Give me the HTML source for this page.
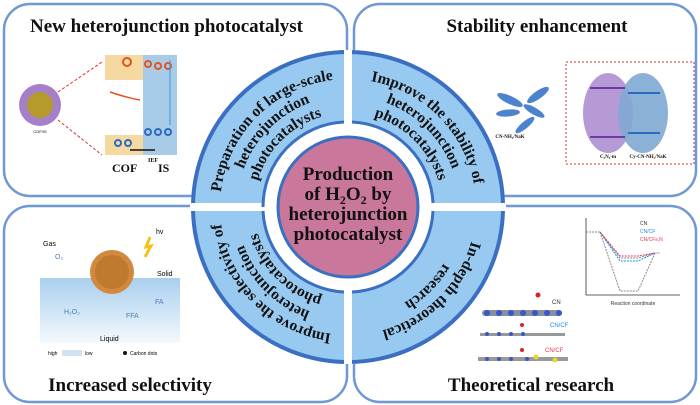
<!DOCTYPE html>
<html><head><meta charset="utf-8"><style>
html,body{margin:0;padding:0;background:#fff;}
svg{display:block;}
.t{font-family:"Liberation Serif",serif;font-weight:bold;fill:#111;}
.s{font-family:"Liberation Sans",sans-serif;}
</style></head><body>
<svg width="700" height="405" viewBox="0 0 700 405" xmlns="http://www.w3.org/2000/svg">
<defs>
<path id="tl1" d="M220,207 A128,128 0 0 1 348,79"/>
<path id="tl2" d="M237,207 A111,111 0 0 1 348,96"/>
<path id="tl3" d="M254,207 A94,94 0 0 1 348,113"/>
<path id="tr1" d="M348,79 A128,128 0 0 1 476,207"/>
<path id="tr2" d="M348,96 A111,111 0 0 1 459,207"/>
<path id="tr3" d="M348,113 A94,94 0 0 1 442,207"/>
<path id="br1" d="M476,207 A128,128 0 0 1 348,335"/>
<path id="br2" d="M459,207 A111,111 0 0 1 348,318"/>
<path id="bl1" d="M348,335 A128,128 0 0 1 220,207"/>
<path id="bl2" d="M348,318 A111,111 0 0 1 237,207"/>
<path id="bl3" d="M348,301 A94,94 0 0 1 254,207"/>
<linearGradient id="liq" x1="0" y1="0" x2="0" y2="1"><stop offset="0" stop-color="#a9cfee"/><stop offset="1" stop-color="#f4f9fd"/></linearGradient>
</defs>
<rect x="4" y="4" width="343" height="192" rx="26" fill="#fff" stroke="#6f98d4" stroke-width="2.5"/>
<rect x="354" y="4" width="342" height="192" rx="26" fill="#fff" stroke="#6f98d4" stroke-width="2.5"/>
<rect x="4" y="206" width="343" height="196" rx="26" fill="#fff" stroke="#6f98d4" stroke-width="2.5"/>
<rect x="354" y="206" width="342" height="196" rx="26" fill="#fff" stroke="#6f98d4" stroke-width="2.5"/>

<text class="t" x="30" y="32" font-size="19">New heterojunction photocatalyst</text>
<text class="t" x="537" y="32" font-size="19" text-anchor="middle">Stability enhancement</text>
<text class="t" x="130" y="391" font-size="19" text-anchor="middle">Increased selectivity</text>
<text class="t" x="531" y="391" font-size="19" text-anchor="middle">Theoretical research</text>

<!-- TL illustration -->
<circle cx="40" cy="105" r="21" fill="#a57fc8"/>
<circle cx="40" cy="105" r="13" fill="#b59a2c"/>
<text x="40" y="133" font-size="4" text-anchor="middle" class="s">COF/IS</text>
<line x1="58" y1="92" x2="102" y2="62" stroke="#d33" stroke-dasharray="3,2"/>
<line x1="58" y1="120" x2="102" y2="155" stroke="#d33" stroke-dasharray="3,2"/>
<rect x="105" y="55" width="38" height="100" fill="#f6d9a0"/>
<rect x="105" y="80" width="38" height="55" fill="#fff"/>
<rect x="143" y="55" width="34" height="100" fill="#a8cbe8"/>
<circle cx="127" cy="62" r="4" fill="none" stroke="#e2531f" stroke-width="2"/>
<circle cx="148" cy="64" r="3" fill="none" stroke="#e2531f" stroke-width="2"/><circle cx="158" cy="66" r="3" fill="none" stroke="#e2531f" stroke-width="2"/><circle cx="168" cy="66" r="3" fill="none" stroke="#e2531f" stroke-width="2"/>
<circle cx="148" cy="132" r="3" fill="none" stroke="#2a6bc0" stroke-width="2"/><circle cx="158" cy="132" r="3" fill="none" stroke="#2a6bc0" stroke-width="2"/><circle cx="168" cy="132" r="3" fill="none" stroke="#2a6bc0" stroke-width="2"/>
<circle cx="118" cy="143" r="3" fill="none" stroke="#2a6bc0" stroke-width="2"/><circle cx="128" cy="143" r="3" fill="none" stroke="#2a6bc0" stroke-width="2"/>
<path d="M110,92 Q128,98 140,100" stroke="#e2531f" fill="none" stroke-width="1.5"/>
<line x1="130" y1="150" x2="155" y2="150" stroke="#111" stroke-width="1.5"/>
<line x1="170" y1="60" x2="170" y2="125" stroke="#3a9ad8" stroke-width="1"/>
<text x="112" y="172" font-size="12" class="t">COF</text>
<text x="148" y="162" font-size="6" class="t">IEF</text>
<text x="158" y="172" font-size="12" class="t">IS</text>

<!-- TR illustration -->
<g fill="#4d83cc">
<ellipse cx="510" cy="100" rx="14" ry="4" transform="rotate(25 510 100)"/>
<ellipse cx="538" cy="95" rx="13" ry="4" transform="rotate(-35 538 95)"/>
<ellipse cx="508" cy="113" rx="12" ry="3.5" transform="rotate(-5 508 113)"/>
<ellipse cx="534" cy="111" rx="12" ry="3.5" transform="rotate(30 534 111)"/>
<ellipse cx="525" cy="125" rx="12" ry="3.5" transform="rotate(-40 525 125)"/>
</g>
<text x="510" y="138" font-size="5" text-anchor="middle" class="t">CN-NH₂/NaK</text>
<rect x="566" y="62" width="128" height="102" fill="none" stroke="#d33" stroke-dasharray="2,2"/>
<ellipse cx="608" cy="113" rx="25" ry="40" fill="#b69ad6"/>
<ellipse cx="643" cy="113" rx="25" ry="40" fill="#7fa8d2" opacity="0.9"/>
<line x1="590" y1="88" x2="625" y2="88" stroke="#6a3aa0" stroke-width="2"/>
<line x1="590" y1="137" x2="625" y2="137" stroke="#6a3aa0" stroke-width="2"/>
<line x1="628" y1="93" x2="660" y2="93" stroke="#2a6bc0" stroke-width="2"/>
<line x1="628" y1="133" x2="660" y2="133" stroke="#2a6bc0" stroke-width="2"/>
<text x="608" y="158" font-size="5" text-anchor="middle" class="t">C₃N₄-m</text>
<text x="648" y="158" font-size="5" text-anchor="middle" class="t">Cy-CN-NH₂/NaK</text>

<!-- BL illustration -->
<rect x="40" y="278" width="140" height="65" fill="url(#liq)"/>
<circle cx="112" cy="272" r="22" fill="#d18a3d"/>
<circle cx="112" cy="272" r="17" fill="#c07a30"/>
<path d="M150,237 L146,247 L151,246 L145,257" stroke="#f5c21b" stroke-width="3" fill="none"/>
<text x="43" y="246" font-size="7" class="s">Gas</text>
<text x="156" y="234" font-size="7" class="s">hv</text>
<text x="55" y="259" font-size="7" class="s" fill="#4a7fb8">O₂</text>
<text x="157" y="276" font-size="7" class="s">Solid</text>
<text x="64" y="314" font-size="7" class="s" fill="#4a7fb8">H₂O₂</text>
<text x="126" y="318" font-size="7" class="s" fill="#4a7fb8">FFA</text>
<text x="155" y="304" font-size="7" class="s" fill="#4a7fb8">FA</text>
<text x="100" y="341" font-size="7" class="s">Liquid</text>
<text x="48" y="355" font-size="5" class="s">high</text>
<rect x="62" y="350" width="20" height="6" fill="#cfe3f4"/>
<text x="85" y="355" font-size="5" class="s">low</text>
<circle cx="125" cy="353" r="2" fill="#111"/>
<text x="130" y="355" font-size="5" class="s">Carbon dots</text>

<!-- BR illustration -->
<path d="M586,218 L586,295 L680,295" stroke="#333" stroke-width="0.8" fill="none"/>
<path d="M586,232 L600,232 L620,258 L638,258 L655,253 L660,253" stroke="#888" stroke-dasharray="2,1" fill="none"/>
<path d="M600,232 L620,291 L638,291 L655,253" stroke="#888" stroke-dasharray="2,1" fill="none"/>
<path d="M600,232 L620,261 L638,261 L655,253" stroke="#1a8fe0" stroke-dasharray="2,1" fill="none"/>
<path d="M600,232 L620,256 L638,256 L655,253" stroke="#e33a5a" stroke-dasharray="2,1" fill="none"/>
<text x="633" y="305" font-size="5" class="s" fill="#333" text-anchor="middle">Reaction coordinate</text>
<text x="640" y="225" font-size="5" class="s" fill="#333">CN</text>
<text x="640" y="233" font-size="5" class="s" fill="#1a8fe0">CN/CF</text>
<text x="640" y="241" font-size="5" class="s" fill="#e33a5a">CN/CFs,N</text>
<g fill="#3857c8">
<rect x="482" y="310" width="80" height="6" rx="3" fill="#8890a0"/>
<rect x="480" y="333" width="85" height="3" fill="#999"/>
<rect x="478" y="357" width="90" height="4" fill="#999"/>
<circle cx="487" cy="313" r="3"/><circle cx="499" cy="313" r="3"/><circle cx="511" cy="313" r="3"/><circle cx="523" cy="313" r="3"/><circle cx="535" cy="313" r="3"/><circle cx="547" cy="313" r="3"/><circle cx="559" cy="313" r="3"/>
<circle cx="487" cy="334" r="2"/><circle cx="499" cy="334" r="2"/><circle cx="511" cy="334" r="2"/><circle cx="523" cy="334" r="2"/>
<circle cx="487" cy="359" r="2"/><circle cx="499" cy="359" r="2"/><circle cx="511" cy="359" r="2"/><circle cx="527" cy="359" r="2"/>
</g>
<circle cx="538" cy="295" r="2.5" fill="#d22"/><circle cx="522" cy="325" r="2" fill="#d22"/><circle cx="522" cy="350" r="2" fill="#d22"/>
<circle cx="536" cy="357" r="2.5" fill="#e8d82a"/><circle cx="555" cy="360" r="2.5" fill="#e8d82a"/>
<text x="552" y="304" font-size="6" class="s" fill="#333">CN</text>
<text x="550" y="327" font-size="6" class="s" fill="#1a8fe0">CN/CF</text>
<text x="545" y="352" font-size="6" class="s" fill="#e33a5a">CN/CF</text>

<!-- central circle -->
<circle cx="348" cy="207" r="157" fill="#fff"/>
<circle cx="348" cy="207" r="155" fill="#98c9f0" stroke="#3a6fc2" stroke-width="4"/>
<rect x="190" y="203" width="316" height="8" fill="#fff"/>
<rect x="344" y="50" width="8" height="314" fill="#fff"/>
<circle cx="348" cy="207" r="84" fill="#fff"/>
<path d="M263,207 A85,85 0 0 1 344,122" fill="none" stroke="#3a6fc2" stroke-width="3"/>
<path d="M352,122 A85,85 0 0 1 433,203" fill="none" stroke="#3a6fc2" stroke-width="3"/>
<path d="M433,211 A85,85 0 0 1 352,292" fill="none" stroke="#3a6fc2" stroke-width="3"/>
<path d="M344,292 A85,85 0 0 1 263,211" fill="none" stroke="#3a6fc2" stroke-width="3"/>
<circle cx="348" cy="207" r="70" fill="#c9779a" stroke="#3a6fc2" stroke-width="3"/>
<g class="t" font-size="19" text-anchor="middle" fill="#2a1418">
<text x="348" y="180">Production</text>
<text x="348" y="200">of H<tspan font-size="12" dy="4">2</tspan><tspan dy="-4">O</tspan><tspan font-size="12" dy="4">2</tspan><tspan dy="-4"> by</tspan></text>
<text x="348" y="220">heterojunction</text>
<text x="348" y="240">photocatalyst</text>
</g>
<g class="t" font-size="15.5" text-anchor="middle">
<text><textPath href="#tl1" startOffset="50%">Preparation of large-scale</textPath></text>
<text><textPath href="#tl2" startOffset="50%">heterojunction</textPath></text>
<text><textPath href="#tl3" startOffset="50%">photocatalysts</textPath></text>
<text><textPath href="#tr1" startOffset="50%">Improve the stability of</textPath></text>
<text><textPath href="#tr2" startOffset="50%">heterojunction</textPath></text>
<text><textPath href="#tr3" startOffset="50%">photocatalysts</textPath></text>
<text><textPath href="#br1" startOffset="50%">In-depth theoretical</textPath></text>
<text><textPath href="#br2" startOffset="50%">research</textPath></text>
<text><textPath href="#bl1" startOffset="50%">Improve the selectivity of</textPath></text>
<text><textPath href="#bl2" startOffset="50%">heterojunction</textPath></text>
<text><textPath href="#bl3" startOffset="50%">photocatalysts</textPath></text>
</g>
</svg>
</body></html>
